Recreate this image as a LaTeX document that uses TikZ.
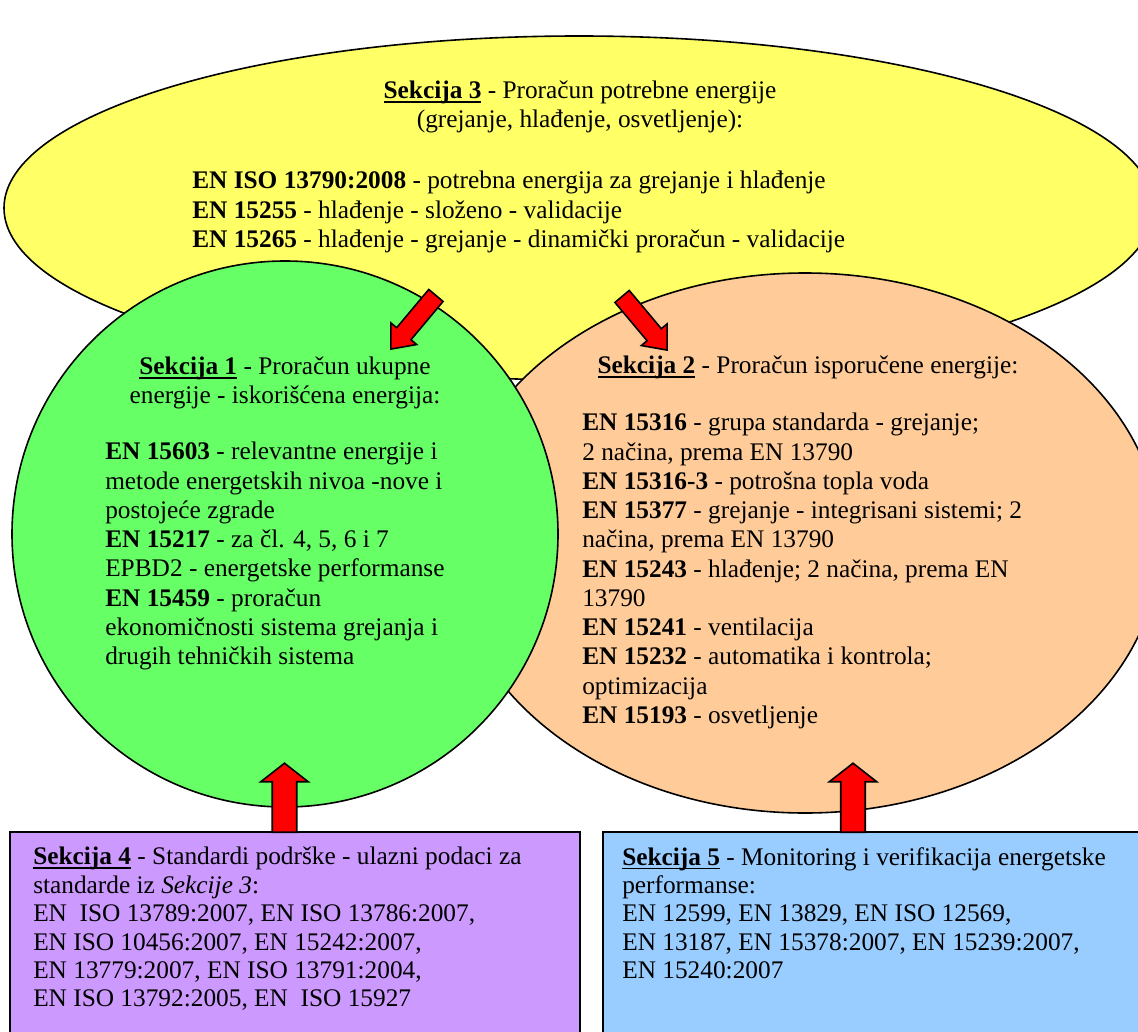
\documentclass[tikz,border=0pt]{standalone}
\usepackage{fontspec}
\setmainfont{Liberation Serif}
\usetikzlibrary{shapes.arrows}

\definecolor{sekYellow}{RGB}{255,255,102}
\definecolor{sekGreen}{RGB}{102,255,102}
\definecolor{sekOrange}{RGB}{255,204,153}
\definecolor{sekViolet}{RGB}{204,153,255}
\definecolor{sekBlue}{RGB}{153,204,255}

\tikzset{
  sectext/.style={inner sep=0pt, font=\fontsize{19}{21.95}\selectfont, align=left, anchor=north west},
  sectitle/.style={inner sep=0pt, font=\fontsize{19}{21.75}\selectfont, align=center, anchor=north},
  boxtext/.style={inner sep=0pt, font=\fontsize{19}{21.3}\selectfont, align=left, anchor=north west},
  redarrow/.style={single arrow, draw=black, fill=red, line width=1.2pt, inner xsep=0pt},
  bigarrow/.style={redarrow, inner ysep=8.6pt, single arrow head extend=8.6pt, single arrow tip angle=104, minimum height=51.75pt},
  smallarrow/.style={redarrow, inner ysep=6.4pt, single arrow head extend=5.6pt, single arrow tip angle=80, minimum height=52.5pt}
}

% underlined bold section label
\newcommand{\sek}[1]{\setbox0\hbox{\textbf{Sekcija #1}}\rlap{\rule[-3.2pt]{\wd0}{1.3pt}}\box0\relax}

\begin{document}
\begin{tikzpicture}[x=0.75pt,y=0.75pt,yscale=-1,xscale=1]
\useasboundingbox (0,0) rectangle (1138,1031);
\clip (0,0) rectangle (1138,1031);

%Shape: Ellipse [Sekcija 3]
\draw [fill=sekYellow, line width=1.2pt] (579,208) ellipse [x radius=575, y radius=172];
%Shape: Ellipse [Sekcija 2]
\draw [fill=sekOrange, line width=1.2pt] (805,543) ellipse [x radius=355, y radius=270];
%Shape: Circle [Sekcija 1]
\draw [fill=sekGreen, line width=1.2pt] (285,534) ellipse [x radius=273, y radius=273];

%Block arrows from Sekcija 3
\node [smallarrow, rotate=230] (arr31) at (417,318) {};
\node [smallarrow, rotate=310] (arr32) at (641,319) {};

%Shape: Rectangle [Sekcija 4]
\draw [fill=sekViolet, line width=1.2pt] (10,832) rectangle (580,1045);
%Shape: Rectangle [Sekcija 5]
\draw [fill=sekBlue, line width=1.2pt] (603,832) rectangle (1150,1045);

%Block arrows from Sekcija 4 and 5
\node [bigarrow, rotate=90] (arr41) at (284.5,802.5) {};
\node [bigarrow, rotate=90] (arr52) at (853,802.5) {};

% Text Node
\node [sectitle] (s3title) at (580,81) {\sek{3} - Proračun potrebne energije\\(grejanje, hlađenje, osvetljenje):};
% Text Node
\node [sectext] (s3body) at (192,171) {\textbf{EN ISO 13790:2008} - potrebna energija za grejanje i hlađenje\\
\textbf{EN 15255} - hlađenje - složeno - validacije\\
\textbf{EN 15265} - hlađenje - grejanje - dinamički proračun - validacije};
% Text Node
\node [sectitle] (s1title) at (285,357) {\sek{1} - Proračun ukupne\\energije - iskorišćena energija:};
% Text Node
\node [sectext] (s1body) at (105,442) {\textbf{EN 15603} - relevantne energije i\\
metode energetskih nivoa -nove i\\
postojeće zgrade\\
\textbf{EN 15217} - za čl. 4, 5, 6 i 7\\
EPBD2 - energetske performanse\\
\textbf{EN 15459} - proračun\\
ekonomičnosti sistema grejanja i\\
drugih tehničkih sistema};
% Text Node
\node [sectitle] (s2title) at (808,356) {\sek{2} - Proračun isporučene energije:};
% Text Node
\node [sectext] (s2body) at (582,413) {\textbf{EN 15316} - grupa standarda - grejanje;\\
2 načina, prema EN 13790\\
\textbf{EN 15316-3} - potrošna topla voda\\
\textbf{EN 15377} - grejanje - integrisani sistemi; 2\\
načina, prema EN 13790\\
\textbf{EN 15243} - hlađenje; 2 načina, prema EN\\
13790\\
\textbf{EN 15241} - ventilacija\\
\textbf{EN 15232} - automatika i kontrola;\\
optimizacija\\
\textbf{EN 15193} - osvetljenje};
% Text Node
\node [boxtext] (s4body) at (33,847) {\sek{4} - Standardi podrške - ulazni podaci za\\
standarde iz \textit{Sekcije 3}:\\
EN\ \ ISO 13789:2007, EN ISO 13786:2007,\\
EN ISO 10456:2007, EN 15242:2007,\\
EN 13779:2007, EN ISO 13791:2004,\\
EN ISO 13792:2005, EN\ \ ISO 15927};
% Text Node
\node [boxtext] (s5body) at (622,847) {\sek{5} - Monitoring i verifikacija energetske\\
performanse:\\
EN 12599, EN 13829, EN ISO 12569,\\
EN 13187, EN 15378:2007, EN 15239:2007,\\
EN 15240:2007};

\end{tikzpicture}
\end{document}
